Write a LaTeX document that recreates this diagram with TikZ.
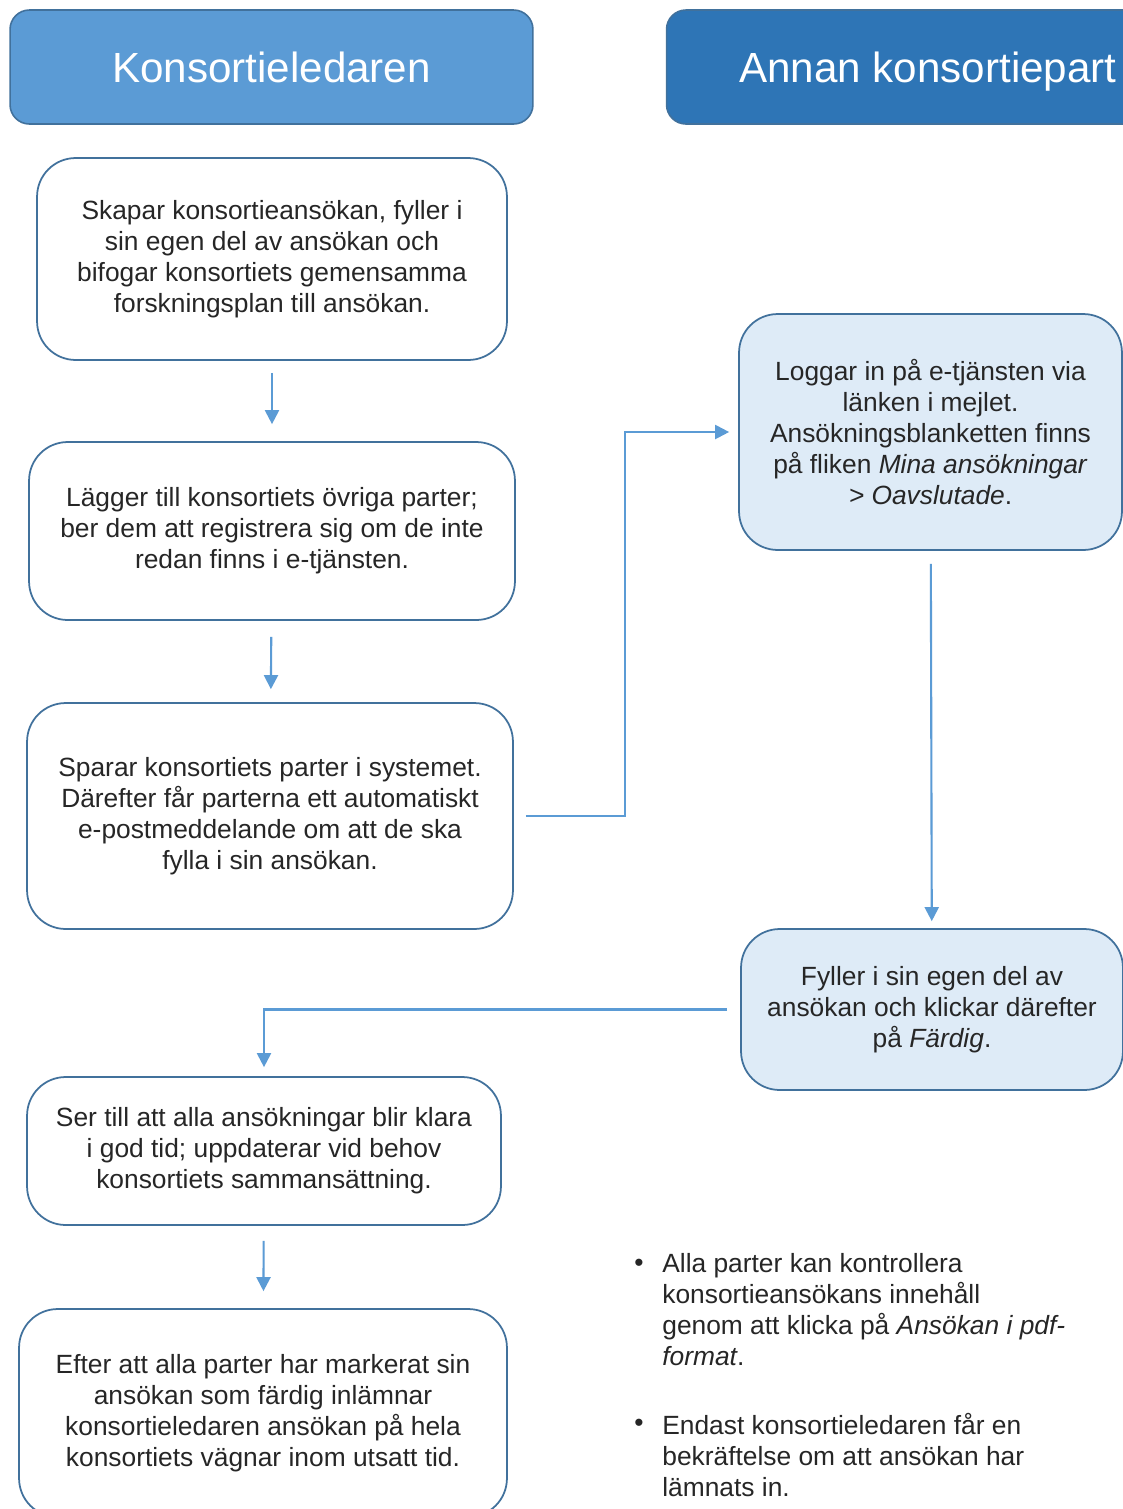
\documentclass[tikz,border=0pt]{standalone}
\usepackage{fontspec}
\setmainfont{Liberation Sans}
\usetikzlibrary{arrows.meta}

\definecolor{hdrlight}{HTML}{5B9BD5}
\definecolor{hdrdark}{HTML}{2E75B6}
\definecolor{edge}{HTML}{41719C}
\definecolor{pale}{HTML}{DEEBF7}
\definecolor{txt}{HTML}{262626}

\begin{document}
\begin{tikzpicture}[x=0.02cm,y=-0.02cm,
  hdr/.style={draw=edge,line width=0.9pt,rounded corners=11pt,text=white,text depth=0pt,
    minimum width=10.46cm,minimum height=2.28cm,font=\fontsize{24}{28}\selectfont},
  box/.style={draw=edge,line width=1pt,rounded corners=22pt,fill=white,text=txt,
    align=center,font=\fontsize{15}{17.6}\selectfont},
  conn/.style={draw=hdrlight,line width=1.2pt,-{Triangle[length=8pt,width=8pt]}},
  note/.style={anchor=north west,align=left,inner sep=0pt,text=txt,font=\fontsize{15}{17.6}\selectfont}]

\clip (0,0) rectangle (1123,1509);
\fill[white] (0,0) rectangle (1123,1509);

\node at (271.5,67) [hdr,fill=hdrlight] (lead) {Konsortieledaren};
\node at (928,67) [hdr,fill=hdrdark] (other) {Annan konsortiepart};

\node at (272,259) [box,minimum width=9.4cm,minimum height=4.04cm] (create)
  {Skapar konsortieansökan, fyller i\\sin egen del av ansökan och\\bifogar konsortiets gemensamma\\forskningsplan till ansökan.};
\node at (272,531) [box,minimum width=9.72cm,minimum height=3.56cm] (add)
  {Lägger till konsortiets övriga parter;\\ber dem att registrera sig om de inte\\redan finns i e-tjänsten.};
\node at (270,816) [box,minimum width=9.72cm,minimum height=4.52cm] (save)
  {Sparar konsortiets parter i systemet.\\Därefter får parterna ett automatiskt\\e-postmeddelande om att de ska\\fylla i sin ansökan.};
\node at (930.5,432) [box,fill=pale,minimum width=7.66cm,minimum height=4.72cm] (login)
  {Loggar in på e-tjänsten via\\länken i mejlet.\\Ansökningsblanketten finns\\på fliken \textit{Mina ansökningar}\\\textit{> Oavslutade}.};
\node at (932,1009.5) [box,fill=pale,minimum width=7.64cm,minimum height=3.22cm] (fill)
  {Fyller i sin egen del av\\ansökan och klickar därefter\\på \textit{Färdig}.};
\node at (264,1151) [box,minimum width=9.48cm,minimum height=2.96cm] (check)
  {Ser till att alla ansökningar blir klara\\i god tid; uppdaterar vid behov\\konsortiets sammansättning.};
\node at (263,1413) [box,minimum width=9.76cm,minimum height=4.16cm] (submit)
  {Efter att alla parter har markerat sin\\ansökan som färdig inlämnar\\konsortieledaren ansökan på hela\\konsortiets vägnar inom utsatt tid.};

\draw[conn,shorten <=0.24cm,shorten >=0.34cm] (create) -- (add);
\draw[conn,shorten <=0.32cm,shorten >=0.26cm] (add) -- (save);
\draw[conn,shorten <=0.24cm,shorten >=0.18cm] (save.east) -- ++(111,0) |- (login.west);
\draw[conn,shorten <=0.26cm,shorten >=0.14cm] (login) -- (fill);
\draw[conn,shorten <=0.26cm,shorten >=0.18cm] (fill.west) -| (check.north);
\draw[conn,shorten <=0.30cm,shorten >=0.34cm] (check) -- (submit);

\node at (634,1271) [note,anchor=base west] (dot1) {•};
\node at (662,1253) [note] (item1)
  {Alla parter kan kontrollera\\konsortieansökans innehåll\\genom att klicka på \textit{Ansökan i pdf-}\\\textit{format}.};
\node at (634,1431) [note,anchor=base west] (dot2) {•};
\node at (662,1413) [note] (item2)
  {Endast konsortieledaren får en\\bekräftelse om att ansökan har\\lämnats in.};

\end{tikzpicture}
\end{document}
